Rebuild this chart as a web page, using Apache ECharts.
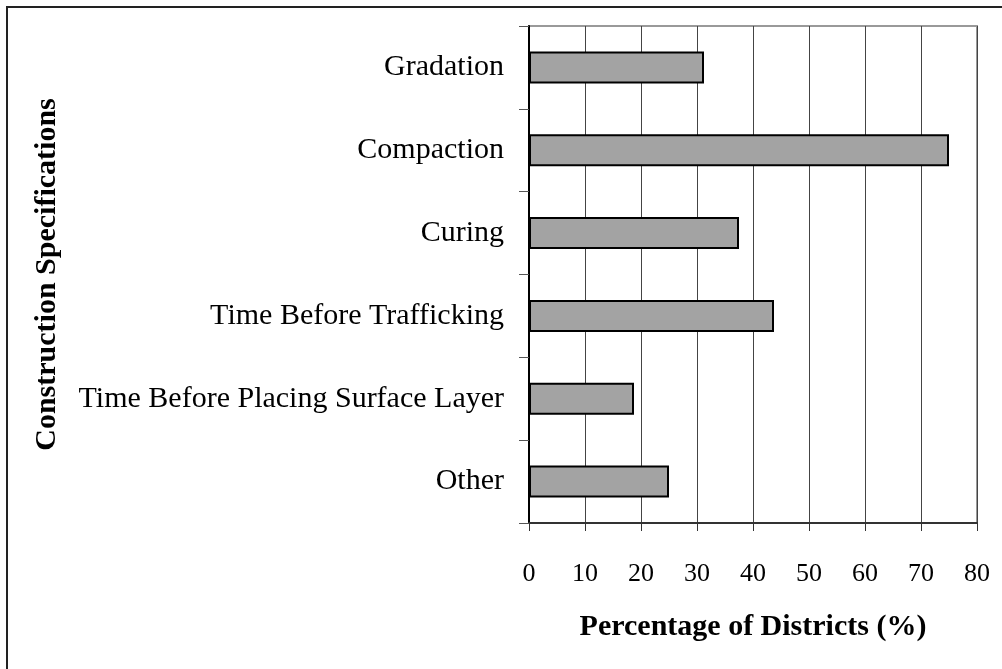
<!DOCTYPE html>
<html>
<head>
<meta charset="utf-8">
<script src="https://cdn.jsdelivr.net/npm/echarts@6/dist/echarts.min.js"></script>
<style>
  html, body { margin: 0; padding: 0; background: #fff; }
  #chart { width: 1002px; height: 669px; }
</style>
</head>
<body>
<div id="chart"></div>
<script>
// data (share of 16 districts)
var categories = ["Gradation", "Compaction", "Curing", "Time Before Trafficking",
                  "Time Before Placing Surface Layer", "Other"];
var percentValues = [31.25, 75, 37.5, 43.75, 18.75, 25];
var xTicks = [0, 10, 20, 30, 40, 50, 60, 70, 80];

var serif = "'Liberation Serif', 'Times New Roman', serif";

var myChart = echarts.init(document.getElementById("chart"));
var option = {
    backgroundColor: "#fff",
    animation: false,
    // outer frame round the whole picture
    graphic: [{
        type: "rect",
        shape: { x: 7, y: 7, width: 1010, height: 680 },
        style: { fill: "none", stroke: "#222", lineWidth: 2 },
        silent: true
    }],
    grid: {
        left: 529, right: 25, top: 26, bottom: 146,
        show: true,
        borderColor: "#999",
        borderWidth: 2
    },
    xAxis: {
        type: "value",
        min: xTicks[0],
        max: xTicks[xTicks.length - 1],
        interval: 10,
        name: "Percentage of Districts (%)",
        nameLocation: "middle",
        nameGap: 89,
        nameTextStyle: { fontFamily: serif, fontWeight: "bold", fontSize: 30, color: "#000" },
        axisLine: { show: true, lineStyle: { color: "#333", width: 2 } },
        axisTick: { show: true, length: 8, lineStyle: { color: "#333", width: 1 } },
        axisLabel: { fontFamily: serif, fontSize: 26, color: "#000", margin: 38 },
        splitLine: { show: true, lineStyle: { color: "#444", width: 1 } }
    },
    yAxis: {
        type: "category",
        data: categories,
        inverse: true,
        name: "Construction Specifications",
        nameLocation: "middle",
        nameGap: 467,
        nameTextStyle: { fontFamily: serif, fontWeight: "bold", fontSize: 30, color: "#000" },
        axisLine: { show: true, lineStyle: { color: "#000", width: 2 } },
        axisTick: { show: true, length: 10, lineStyle: { color: "#555", width: 1 } },
        axisLabel: { fontFamily: serif, fontSize: 30, color: "#000", margin: 25 },
        splitLine: { show: false }
    },
    series: [{
        type: "bar",
        data: percentValues,
        barWidth: 32,
        itemStyle: { color: "#a3a3a3", borderColor: "#000", borderWidth: 2 }
    }]
};
myChart.setOption(option);
window.addEventListener("resize", function () {
    myChart.resize();
});
</script>
</body>
</html>
